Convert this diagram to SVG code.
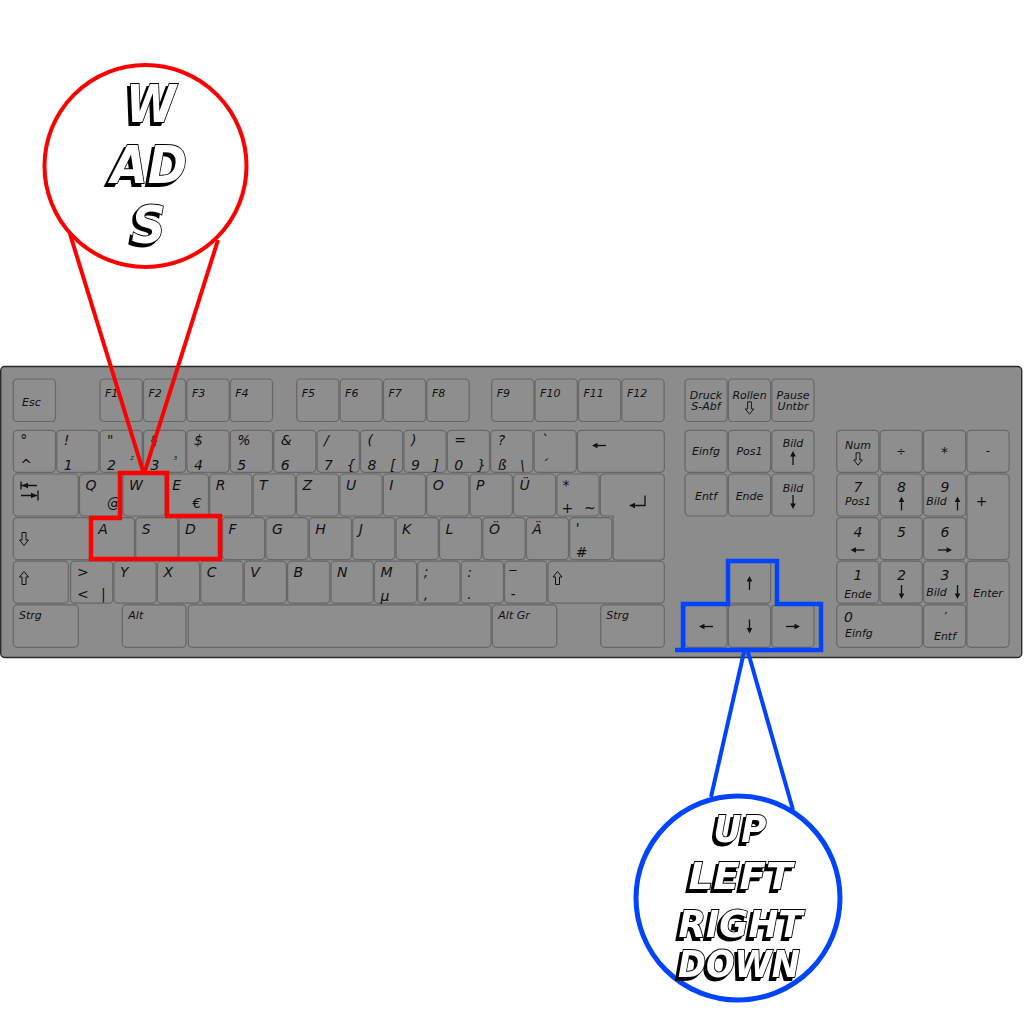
<svg xmlns="http://www.w3.org/2000/svg" xmlns:xlink="http://www.w3.org/1999/xlink" width="1024" height="1024" viewBox="0 0 1024 1024">
<style>
.k{fill:#8e8e8e;stroke:#676767;stroke-width:1.2}
.l{font-family:"DejaVu Sans",sans-serif;font-style:italic;font-size:14px;fill:#111}
.m{font-size:11px}
.sm{font-size:9px}
.c{text-anchor:middle}
.bz{font-family:"DejaVu Sans",sans-serif;font-weight:bold;font-style:italic;text-anchor:middle;fill:#fff;stroke:#000;stroke-width:1.8;paint-order:stroke;filter:url(#ds)}
</style>
<defs>
<g id="aU"><path d="M0,7V-2" stroke="#111" stroke-width="1.3"/><path d="M0,-7L-2.8,-1.5H2.8Z" fill="#111"/></g>
<path id="oU" d="M0,-6.5L4.5,-1H2V6.5H-2V-1H-4.5Z" fill="none" stroke="#111" stroke-width="1"/>
<filter id="ds" x="-20%" y="-20%" width="140%" height="140%">
<feOffset in="SourceAlpha" dx="-3" dy="3" result="o"/>
<feMerge><feMergeNode in="o"/><feMergeNode in="SourceGraphic"/></feMerge>
</filter>
</defs>
<rect width="1024" height="1024" fill="#fff"/>
<g id="keyboard">
<rect x="0.7" y="366.5" width="1021" height="291" rx="4" fill="#8c8c8c" stroke="#2a2a2a" stroke-width="1.4"/>
<g id="row-f">
<rect class="k" x="13.3" y="379" width="42.2" height="42.5" rx="4"/><text class="l m" x="22" y="406">Esc</text>
<rect class="k" x="100.1" y="379" width="42.2" height="42.5" rx="4"/><text class="l m" x="105" y="396.7">F1</text>
<rect class="k" x="143.5" y="379" width="42.2" height="42.5" rx="4"/><text class="l m" x="148.5" y="396.7">F2</text>
<rect class="k" x="186.9" y="379" width="42.2" height="42.5" rx="4"/><text class="l m" x="191.9" y="396.7">F3</text>
<rect class="k" x="230.3" y="379" width="42.2" height="42.5" rx="4"/><text class="l m" x="235.3" y="396.7">F4</text>
<rect class="k" x="296.7" y="379" width="42.2" height="42.5" rx="4"/><text class="l m" x="301.7" y="396.7">F5</text>
<rect class="k" x="340.1" y="379" width="42.2" height="42.5" rx="4"/><text class="l m" x="345.1" y="396.7">F6</text>
<rect class="k" x="383.5" y="379" width="42.2" height="42.5" rx="4"/><text class="l m" x="388.5" y="396.7">F7</text>
<rect class="k" x="426.9" y="379" width="42.2" height="42.5" rx="4"/><text class="l m" x="431.9" y="396.7">F8</text>
<rect class="k" x="491.7" y="379" width="42.2" height="42.5" rx="4"/><text class="l m" x="496.7" y="396.7">F9</text>
<rect class="k" x="535.1" y="379" width="42.2" height="42.5" rx="4"/><text class="l m" x="540.1" y="396.7">F10</text>
<rect class="k" x="578.5" y="379" width="42.2" height="42.5" rx="4"/><text class="l m" x="583.5" y="396.7">F11</text>
<rect class="k" x="621.9" y="379" width="42.2" height="42.5" rx="4"/><text class="l m" x="626.9" y="396.7">F12</text>
</g>
<g id="row-1">
<rect class="k" x="13.3" y="430.3" width="42.2" height="42" rx="4"/><text class="l" x="20.3" y="445">°</text><text class="l" x="20.3" y="470">^</text>
<rect class="k" x="56.7" y="430.3" width="42.2" height="42" rx="4"/><text class="l" x="63.7" y="445">!</text><text class="l" x="63.7" y="470">1</text>
<rect class="k" x="100.1" y="430.3" width="42.2" height="42" rx="4"/><text class="l" x="107.1" y="445">"</text><text class="l" x="107.1" y="470">2</text><text class="l sm" x="130" y="463">²</text>
<rect class="k" x="143.5" y="430.3" width="42.2" height="42" rx="4"/><text class="l" x="150.5" y="445">§</text><text class="l" x="150.5" y="470">3</text><text class="l sm" x="173.5" y="463">³</text>
<rect class="k" x="186.9" y="430.3" width="42.2" height="42" rx="4"/><text class="l" x="193.9" y="445">$</text><text class="l" x="193.9" y="470">4</text>
<rect class="k" x="230.3" y="430.3" width="42.2" height="42" rx="4"/><text class="l" x="237.3" y="445">%</text><text class="l" x="237.3" y="470">5</text>
<rect class="k" x="273.7" y="430.3" width="42.2" height="42" rx="4"/><text class="l" x="280.7" y="445">&amp;</text><text class="l" x="280.7" y="470">6</text>
<rect class="k" x="317.1" y="430.3" width="42.2" height="42" rx="4"/><text class="l" x="324.1" y="445">/</text><text class="l" x="324.1" y="470">7</text><text class="l" x="346.5" y="470">{</text>
<rect class="k" x="360.5" y="430.3" width="42.2" height="42" rx="4"/><text class="l" x="367.5" y="445">(</text><text class="l" x="367.5" y="470">8</text><text class="l" x="390" y="470">[</text>
<rect class="k" x="403.9" y="430.3" width="42.2" height="42" rx="4"/><text class="l" x="410.9" y="445">)</text><text class="l" x="410.9" y="470">9</text><text class="l" x="433.5" y="470">]</text>
<rect class="k" x="447.3" y="430.3" width="42.2" height="42" rx="4"/><text class="l" x="454.3" y="445">=</text><text class="l" x="454.3" y="470">0</text><text class="l" x="477" y="470">}</text>
<rect class="k" x="490.7" y="430.3" width="42.2" height="42" rx="4"/><text class="l" x="497.7" y="445">?</text><text class="l" x="497.7" y="470">ß</text><text class="l" x="520" y="470">\</text>
<rect class="k" x="534.1" y="430.3" width="42.2" height="42" rx="4"/><text class="l" x="541.1" y="445">`</text><text class="l" x="541.1" y="470">´</text>
<rect class="k" x="577.5" y="430.3" width="86.8" height="42" rx="4"/><use xlink:href="#aU" transform="translate(599,445.5) rotate(-90)"/>
</g>
<g id="row-2">
<rect class="k" x="13.3" y="474" width="65" height="42" rx="4"/>
<path d="M21,481.5V489.5M21.5,485.5H37" stroke="#111" stroke-width="1.3" fill="none"/><path d="M22,485.5L28,482.7V488.3Z" fill="#111"/>
<path d="M38,490.5V500.5M21,495.5H37" stroke="#111" stroke-width="1.3" fill="none"/><path d="M37,495.5L31,492.7V498.3Z" fill="#111"/>
<rect class="k" x="79.5" y="474" width="42.2" height="42" rx="4"/><text class="l" x="85.5" y="490">Q</text><text class="l" x="107" y="508">@</text>
<rect class="k" x="122.9" y="474" width="42.2" height="42" rx="4"/><text class="l" x="128.9" y="490">W</text>
<rect class="k" x="166.3" y="474" width="42.2" height="42" rx="4"/><text class="l" x="172.3" y="490">E</text><text class="l" x="192.5" y="508">€</text>
<rect class="k" x="209.7" y="474" width="42.2" height="42" rx="4"/><text class="l" x="215.7" y="490">R</text>
<rect class="k" x="253.1" y="474" width="42.2" height="42" rx="4"/><text class="l" x="259.1" y="490">T</text>
<rect class="k" x="296.5" y="474" width="42.2" height="42" rx="4"/><text class="l" x="302.5" y="490">Z</text>
<rect class="k" x="339.9" y="474" width="42.2" height="42" rx="4"/><text class="l" x="345.9" y="490">U</text>
<rect class="k" x="383.3" y="474" width="42.2" height="42" rx="4"/><text class="l" x="389.3" y="490">I</text>
<rect class="k" x="426.7" y="474" width="42.2" height="42" rx="4"/><text class="l" x="432.7" y="490">O</text>
<rect class="k" x="470.1" y="474" width="42.2" height="42" rx="4"/><text class="l" x="476.1" y="490">P</text>
<rect class="k" x="513.5" y="474" width="42.2" height="42" rx="4"/><text class="l" x="519.5" y="490">Ü</text>
<rect class="k" x="556.9" y="474" width="42.2" height="42" rx="4"/><text class="l" x="562.5" y="490">*</text><text class="l" x="561.5" y="513">+</text><text class="l" x="584" y="513">~</text>
<path class="k" d="M604.3,474H660.3Q664.3,474 664.3,478V556Q664.3,560 660.3,560H617.1Q613.1,560 613.1,556V516H604.3Q600.3,516 600.3,512V478Q600.3,474 604.3,474Z"/>
<path d="M645,495.5V505.5H632" stroke="#111" stroke-width="1.3" fill="none"/><path d="M629,505.5L635,502.7V508.3Z" fill="#111"/>
</g>
<g id="row-3">
<rect class="k" x="13.3" y="517.6" width="77" height="42" rx="4"/><use xlink:href="#oU" transform="translate(24,539) rotate(180)"/>
<rect class="k" x="92.3" y="517.6" width="42.2" height="42" rx="4"/><text class="l" x="98.3" y="534">A</text>
<rect class="k" x="135.7" y="517.6" width="42.2" height="42" rx="4"/><text class="l" x="141.7" y="534">S</text>
<rect class="k" x="179.1" y="517.6" width="42.2" height="42" rx="4"/><text class="l" x="185.1" y="534">D</text>
<rect class="k" x="222.5" y="517.6" width="42.2" height="42" rx="4"/><text class="l" x="228.5" y="534">F</text>
<rect class="k" x="265.9" y="517.6" width="42.2" height="42" rx="4"/><text class="l" x="271.9" y="534">G</text>
<rect class="k" x="309.3" y="517.6" width="42.2" height="42" rx="4"/><text class="l" x="315.3" y="534">H</text>
<rect class="k" x="352.7" y="517.6" width="42.2" height="42" rx="4"/><text class="l" x="358.7" y="534">J</text>
<rect class="k" x="396.1" y="517.6" width="42.2" height="42" rx="4"/><text class="l" x="402.1" y="534">K</text>
<rect class="k" x="439.5" y="517.6" width="42.2" height="42" rx="4"/><text class="l" x="445.5" y="534">L</text>
<rect class="k" x="482.9" y="517.6" width="42.2" height="42" rx="4"/><text class="l" x="488.9" y="534">Ö</text>
<rect class="k" x="526.3" y="517.6" width="42.2" height="42" rx="4"/><text class="l" x="532.3" y="534">Ä</text>
<rect class="k" x="569.7" y="517.6" width="42.2" height="42" rx="4"/><text class="l" x="575.7" y="533">'</text><text class="l" x="575.7" y="557">#</text>
</g>
<g id="row-4">
<rect class="k" x="13.3" y="561.2" width="55" height="42" rx="4"/><use xlink:href="#oU" transform="translate(24,578)"/>
<rect class="k" x="70.6" y="561.2" width="42.2" height="42" rx="4"/><text class="l" x="77" y="577">&gt;</text><text class="l" x="77" y="599">&lt;</text><text class="l" x="101" y="599">|</text>
<rect class="k" x="114" y="561.2" width="42.2" height="42" rx="4"/><text class="l" x="120" y="577">Y</text>
<rect class="k" x="157.4" y="561.2" width="42.2" height="42" rx="4"/><text class="l" x="163.4" y="577">X</text>
<rect class="k" x="200.8" y="561.2" width="42.2" height="42" rx="4"/><text class="l" x="206.8" y="577">C</text>
<rect class="k" x="244.2" y="561.2" width="42.2" height="42" rx="4"/><text class="l" x="250.2" y="577">V</text>
<rect class="k" x="287.6" y="561.2" width="42.2" height="42" rx="4"/><text class="l" x="293.6" y="577">B</text>
<rect class="k" x="331" y="561.2" width="42.2" height="42" rx="4"/><text class="l" x="337" y="577">N</text>
<rect class="k" x="374.4" y="561.2" width="42.2" height="42" rx="4"/><text class="l" x="380.4" y="577">M</text><text class="l" x="380.4" y="601">µ</text>
<rect class="k" x="417.8" y="561.2" width="42.2" height="42" rx="4"/><text class="l" x="423.8" y="577">;</text><text class="l" x="423.8" y="599">,</text>
<rect class="k" x="461.2" y="561.2" width="42.2" height="42" rx="4"/><text class="l" x="467.2" y="577">:</text><text class="l" x="467.2" y="599">.</text>
<rect class="k" x="504.6" y="561.2" width="42.2" height="42" rx="4"/><text class="l" x="509.5" y="568">_</text><text class="l" x="510.6" y="599">-</text>
<rect class="k" x="548" y="561.2" width="116.3" height="42" rx="4"/><use xlink:href="#oU" transform="translate(557.5,578)"/>
</g>
<g id="row-5">
<rect class="k" x="13.3" y="604.8" width="65" height="42.5" rx="4"/><text class="l m" x="19" y="618.5">Strg</text>
<rect class="k" x="122.3" y="604.8" width="63.7" height="42.5" rx="4"/><text class="l m" x="128.3" y="618.5">Alt</text>
<rect class="k" x="188.3" y="604.8" width="302.7" height="42.5" rx="4"/>
<rect class="k" x="492.3" y="604.8" width="64.4" height="42.5" rx="4"/><text class="l m" x="498.3" y="618.5">Alt Gr</text>
<rect class="k" x="600.7" y="604.8" width="63.6" height="42.5" rx="4"/><text class="l m" x="606.3" y="618.5">Strg</text>
</g>
<g id="nav">
<rect class="k" x="685" y="379" width="42.2" height="42.5" rx="4"/><text class="l m c" x="706" y="398.5">Druck</text><text class="l m c" x="706" y="410">S-Abf</text>
<rect class="k" x="728.4" y="379" width="42.2" height="42.5" rx="4"/><text class="l m c" x="749.5" y="398.5">Rollen</text><use xlink:href="#oU" transform="translate(749.5,408) rotate(180) scale(0.95)"/>
<rect class="k" x="771.8" y="379" width="42.2" height="42.5" rx="4"/><text class="l m c" x="793" y="398.5">Pause</text><text class="l m c" x="793" y="410">Untbr</text>
<rect class="k" x="685" y="430.3" width="42.2" height="42" rx="4"/><text class="l m c" x="706" y="455">Einfg</text>
<rect class="k" x="728.4" y="430.3" width="42.2" height="42" rx="4"/><text class="l m c" x="749.5" y="455">Pos1</text>
<rect class="k" x="771.8" y="430.3" width="42.2" height="42" rx="4"/><text class="l m c" x="793" y="447">Bild</text><use xlink:href="#aU" transform="translate(793,458)"/>
<rect class="k" x="685" y="474" width="42.2" height="42" rx="4"/><text class="l m c" x="706" y="499.5">Entf</text>
<rect class="k" x="728.4" y="474" width="42.2" height="42" rx="4"/><text class="l m c" x="749.5" y="499.5">Ende</text>
<rect class="k" x="771.8" y="474" width="42.2" height="42" rx="4"/><text class="l m c" x="793" y="491.5">Bild</text><use xlink:href="#aU" transform="translate(793,502) rotate(180)"/>
<rect class="k" x="728.4" y="561.2" width="42.2" height="42" rx="4"/><use xlink:href="#aU" transform="translate(749.5,583)"/>
<rect class="k" x="685" y="604.8" width="42.2" height="42.5" rx="4"/><use xlink:href="#aU" transform="translate(706,626.5) rotate(-90)"/>
<rect class="k" x="728.4" y="604.8" width="42.2" height="42.5" rx="4"/><use xlink:href="#aU" transform="translate(749.5,626.5) rotate(180)"/>
<rect class="k" x="771.8" y="604.8" width="42.2" height="42.5" rx="4"/><use xlink:href="#aU" transform="translate(793,626.5) rotate(90)"/>
</g>
<g id="numpad">
<rect class="k" x="836.7" y="430.3" width="42.2" height="42" rx="4"/><text class="l m c" x="858" y="449">Num</text><use xlink:href="#oU" transform="translate(858,459) rotate(180) scale(0.95)"/>
<rect class="k" x="880.1" y="430.3" width="42.2" height="42" rx="4"/><text class="l m c" x="901" y="455">÷</text>
<rect class="k" x="923.5" y="430.3" width="42.2" height="42" rx="4"/><text class="l c" x="944.5" y="457">*</text>
<rect class="k" x="966.9" y="430.3" width="42.2" height="42" rx="4"/><text class="l m c" x="988" y="454">-</text>
<rect class="k" x="836.7" y="474" width="42.2" height="42" rx="4"/><text class="l c" x="858" y="491.5">7</text><text class="l m c" x="858" y="505">Pos1</text>
<rect class="k" x="880.1" y="474" width="42.2" height="42" rx="4"/><text class="l c" x="901.5" y="491.5">8</text><use xlink:href="#aU" transform="translate(901.5,503.5)"/>
<rect class="k" x="923.5" y="474" width="42.2" height="42" rx="4"/><text class="l c" x="945" y="491.5">9</text><text class="l m c" x="936.5" y="505">Bild</text><use xlink:href="#aU" transform="translate(957.5,503.5)"/>
<rect class="k" x="966.9" y="474" width="42.2" height="85.6" rx="4"/><text class="l c" x="981.5" y="505.5">+</text>
<rect class="k" x="836.7" y="517.6" width="42.2" height="42" rx="4"/><text class="l c" x="858" y="536.5">4</text><use xlink:href="#aU" transform="translate(857.5,550) rotate(-90)"/>
<rect class="k" x="880.1" y="517.6" width="42.2" height="42" rx="4"/><text class="l c" x="901.5" y="536.5">5</text>
<rect class="k" x="923.5" y="517.6" width="42.2" height="42" rx="4"/><text class="l c" x="945" y="536.5">6</text><use xlink:href="#aU" transform="translate(945,550) rotate(90)"/>
<rect class="k" x="836.7" y="561.2" width="42.2" height="42" rx="4"/><text class="l c" x="858" y="580">1</text><text class="l m c" x="858" y="597.5">Ende</text>
<rect class="k" x="880.1" y="561.2" width="42.2" height="42" rx="4"/><text class="l c" x="901.5" y="580">2</text><use xlink:href="#aU" transform="translate(901.5,592) rotate(180)"/>
<rect class="k" x="923.5" y="561.2" width="42.2" height="42" rx="4"/><text class="l c" x="945" y="580">3</text><text class="l m c" x="936.5" y="596">Bild</text><use xlink:href="#aU" transform="translate(957.5,592) rotate(180)"/>
<rect class="k" x="966.9" y="561.2" width="42.2" height="86.1" rx="4"/><text class="l m c" x="988" y="597">Enter</text>
<rect class="k" x="836.7" y="604.8" width="85.6" height="42.5" rx="4"/><text class="l" x="844" y="621.5">0</text><text class="l m" x="845" y="637">Einfg</text>
<rect class="k" x="923.5" y="604.8" width="42.2" height="42.5" rx="4"/><text class="l m c" x="945" y="620">’</text><text class="l m c" x="945" y="639.5">Entf</text>
</g>
</g>
<g id="connectors" fill="none" stroke-width="4">
<line x1="70" y1="234" x2="143" y2="471" stroke="#ff0000"/>
<line x1="218" y1="240" x2="145" y2="471" stroke="#ff0000"/>
<line x1="744" y1="652" x2="711" y2="797" stroke="#0044ff"/>
<line x1="748" y1="652" x2="793" y2="810" stroke="#0044ff"/>
</g>
<g id="wasd-highlight">
<path d="M120,473H167V516H220V559H91V518H120Z" fill="none" stroke="#ff0000" stroke-width="4.5"/>
</g>
<g id="arrows-highlight">
<path d="M675,650H821V604H777V561H728V604H683V650" fill="none" stroke="#0044ff" stroke-width="4.5"/>
</g>
<g id="wasd-bubble">
<circle cx="145.5" cy="166" r="101" fill="#fff" stroke="#ff0000" stroke-width="4"/>
<text class="bz" x="151" y="121.5" font-size="52" textLength="50" lengthAdjust="spacingAndGlyphs">W</text>
<text class="bz" x="149" y="183" font-size="52" textLength="76" lengthAdjust="spacingAndGlyphs">AD</text>
<text class="bz" x="148.5" y="242.5" font-size="52" textLength="34" lengthAdjust="spacingAndGlyphs">S</text>
</g>
<g id="arrows-bubble">
<circle cx="738" cy="898" r="102" fill="#fff" stroke="#0044ff" stroke-width="5"/>
<text class="bz" x="740" y="841.5" font-size="38" textLength="53" lengthAdjust="spacingAndGlyphs">UP</text>
<text class="bz" x="740.5" y="888.5" font-size="38" textLength="104" lengthAdjust="spacingAndGlyphs">LEFT</text>
<text class="bz" x="740.5" y="936.5" font-size="38" textLength="124" lengthAdjust="spacingAndGlyphs">RIGHT</text>
<text class="bz" x="739" y="976.5" font-size="38" textLength="122" lengthAdjust="spacingAndGlyphs">DOWN</text>
</g>
</svg>
